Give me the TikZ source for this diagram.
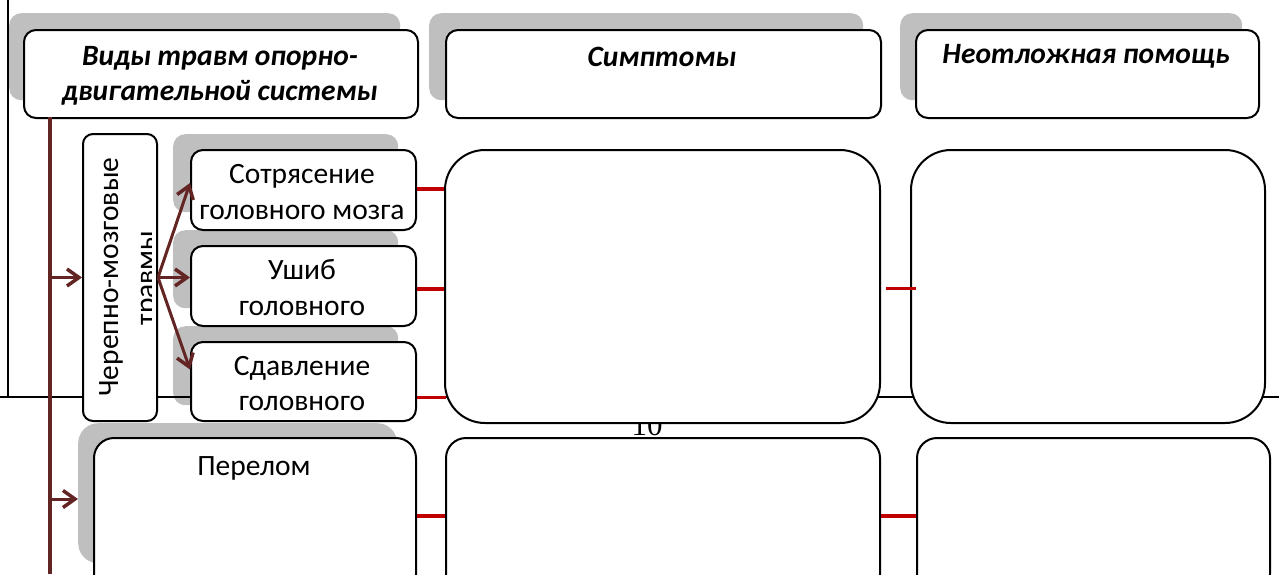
\documentclass[tikz,border=0pt]{standalone}
\usepackage{fontspec}
\setmainfont{Carlito}
\newfontfamily\serifnum{Liberation Serif}
\usetikzlibrary{arrows.meta}
\definecolor{shadowgray}{HTML}{BFBFBF}
\definecolor{maroon}{HTML}{632523}
\definecolor{connred}{HTML}{C00000}
\tikzset{
  box/.style={draw=black, line width=2pt, fill=white, inner sep=0pt, anchor=north west},
  shad/.style={fill=shadowgray, draw=none, inner sep=0pt, anchor=north west},
  headtxt/.style={anchor=base, inner sep=0pt, font=\fontsize{29.5}{35}\selectfont\bfseries\itshape},
  subtxt/.style={anchor=base, inner sep=0pt, font=\fontsize{29.5}{35}\selectfont},
  trunk/.style={draw=maroon, line width=3.5pt},
  marrow/.style={draw=maroon, line width=3pt, -{Straight Barb[length=12pt,width=17pt,line width=3.5pt]}},
  redline/.style={draw=connred, line width=3.5pt},
  border/.style={draw=black, line width=1.6pt}
}
\begin{document}
\begin{tikzpicture}[x=1pt,y=-1pt]
\useasboundingbox (0,0) rectangle (1279,574);
% page number behind boxes
\node[anchor=base, inner sep=0pt, font=\serifnum\fontsize{31}{33}\selectfont] (pnum) at (647,435) {10};
% shadows
\node[shad, rounded corners=12pt, minimum width=391pt, minimum height=87pt] (s_h1) at (9,13) {};
\node[shad, rounded corners=12pt, minimum width=434pt, minimum height=87pt] (s_h2) at (429,13) {};
\node[shad, rounded corners=12pt, minimum width=342pt, minimum height=87pt] (s_h3) at (900,13) {};
\node[shad, rounded corners=12pt, minimum width=225pt, minimum height=78pt] (s_sub1) at (173,134) {};
\node[shad, rounded corners=12pt, minimum width=225pt, minimum height=78pt] (s_sub2) at (173,230) {};
\node[shad, rounded corners=12pt, minimum width=225pt, minimum height=79pt] (s_sub3) at (173,326) {};
\node[shad, rounded corners=20pt, minimum width=319pt, minimum height=140pt] (s_per) at (78,423) {};
% page border lines
\coordinate (bTL) at (8,0);
\coordinate (bBL) at (8,397);
\coordinate (bL) at (0,397);
\coordinate (bR) at (1279,397);
\draw[border] (bTL) -- (bBL);
\draw[border] (bL) -- (bR);
% boxes
\node[box, rounded corners=12pt, minimum width=394pt, minimum height=88pt] (h1) at (23,29) {};
\node[box, rounded corners=12pt, minimum width=435pt, minimum height=88pt] (h2) at (445,29) {};
\node[box, rounded corners=12pt, minimum width=343pt, minimum height=88pt] (h3) at (915,29) {};
\node[box, rounded corners=10pt, minimum width=74pt, minimum height=287pt] (cher) at (82,133) {};
\node[box, rounded corners=12pt, minimum width=225pt, minimum height=80pt] (sub1) at (190,149) {};
\node[box, rounded corners=12pt, minimum width=225pt, minimum height=80pt] (sub2) at (190,245) {};
\node[box, rounded corners=12pt, minimum width=225pt, minimum height=79pt] (sub3) at (190,341) {};
\node[box, rounded corners=40pt, minimum width=435pt, minimum height=273pt] (sym1) at (444,149) {};
\node[box, rounded corners=40pt, minimum width=354pt, minimum height=273pt] (help1) at (910,149) {};
\node[box, rounded corners=20pt, minimum width=322pt, minimum height=156pt] (per) at (93,437) {};
\node[box, rounded corners=20pt, minimum width=434pt, minimum height=156pt] (sym2) at (445,437) {};
\node[box, rounded corners=20pt, minimum width=353pt, minimum height=156pt] (help2) at (916,437) {};
% texts
\node[headtxt] (t_h1a) at (220,65) {Виды травм опорно-};
\node[headtxt] (t_h1b) at (220,100) {двигательной системы};
\node[headtxt] (t_h2) at (662,66) {Симптомы};
\node[headtxt] (t_h3) at (1086,63) {Неотложная помощь};
\node[subtxt] (t_s1a) at (302,183) {Сотрясение};
\node[subtxt] (t_s1b) at (302,219) {головного мозга};
\node[subtxt] (t_s2a) at (302,279) {Ушиб};
\node[subtxt] (t_s2b) at (302,315) {головного};
\node[subtxt] (t_s3a) at (302,375) {Сдавление};
\node[subtxt] (t_s3b) at (302,410) {головного};
\node[subtxt] (t_per) at (254,475) {Перелом};
\node[subtxt, rotate=90] (t_ch1) at (118,277) {Черепно-мозговые};
\begin{scope}
\clip (84,135) rectangle (151,418);
\node[subtxt, rotate=90] (t_ch2) at (155,278) {травмы};
\end{scope}
% trunk and arrows
\coordinate (tr0) at (50,117);
\coordinate (tr1) at (50,574);
\coordinate (a2) at (50,499);
\draw[trunk] (tr0) -- (tr1);
\draw[marrow] (cher.west -| tr0) -- (cher.west);
\draw[marrow] (a2) -- (a2 -| s_per.west);
\draw[marrow] (cher.east) -- ([yshift=7pt]sub1.west);
\draw[marrow] (cher.east) -- (sub2.west |- cher.east);
\draw[marrow] (cher.east) -- ([yshift=12pt]sub3.west);
% red connectors
\draw[redline] ([yshift=1pt]sub1.east) -- ([yshift=1pt]sub1.east -| sym1.west);
\draw[redline] ([yshift=-3pt]sub2.east) -- ([yshift=-3pt]sub2.east -| sym1.west);
\draw[redline] ([yshift=-16pt]sub3.east) -- ([yshift=-16pt,xshift=2pt]sub3.east -| sym1.west);
\draw[redline] ([xshift=5pt,yshift=-2pt]sym1.east) -- ([xshift=6pt,yshift=-2pt]sym1.east -| help1.west);
\draw[redline] (per.east) -- (per.east -| sym2.west);
\draw[redline] (sym2.east) -- (sym2.east -| help2.west);
\end{tikzpicture}
\end{document}
